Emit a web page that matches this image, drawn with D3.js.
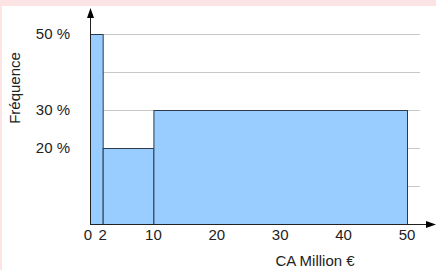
<!DOCTYPE html>
<html>
<head>
<meta charset="utf-8">
<script src="https://cdn.jsdelivr.net/npm/d3@7"></script>
<style>
  html, body { margin: 0; padding: 0; background: #fde4e4; }
  svg { display: block; }
  text { font-family: "Liberation Sans", Arial, sans-serif; fill: #222; }
</style>
</head>
<body>
<svg id="svg-histo" width="436" height="270"></svg>
<script>
// Data
var classStarts = [0, 2, 10];
var classEnds = [2, 10, 50];
var frequencies = [50, 20, 30]; // percent
var xTicks = [0, 2, 10, 20, 30, 40, 50];
var yTicks = [50, 30, 20];
var gridValues = [10, 20, 30, 40, 50];
var xTitle = "CA Million €";
var yTitle = "Fréquence";

function init() {
  var svg = d3.select("#svg-histo");

  // white panel inside the pink frame
  svg.append("rect")
     .attr("x", 2).attr("y", 6)
     .attr("width", 434).attr("height", 264)
     .attr("fill", "#fff");

  var x = d3.scaleLinear().domain([0, 50]).range([90, 407]);
  var y = d3.scaleLinear().domain([0, 50]).range([224, 34]);

  // gridlines
  svg.selectAll(".grid")
     .data(gridValues)
     .enter()
     .append("line")
     .attr("class", "grid")
     .attr("x1", x(0)).attr("x2", 420)
     .attr("y1", function(d) { return y(d) + 0.5; })
     .attr("y2", function(d) { return y(d) + 0.5; })
     .attr("stroke", "#c8c8c8")
     .attr("stroke-width", 1);

  // bars
  svg.selectAll(".bar")
     .data(frequencies)
     .enter()
     .append("rect")
     .attr("class", "bar")
     .attr("x", function(d, i) { return x(classStarts[i]) + 0.5; })
     .attr("y", function(d) { return y(d) + 0.5; })
     .attr("width", function(d, i) { return x(classEnds[i]) - x(classStarts[i]); })
     .attr("height", function(d) { return y(0) - y(d); })
     .attr("fill", "#99ccff")
     .attr("stroke", "#2e3b4e")
     .attr("stroke-width", 1);

  // axes with arrows
  svg.append("line")
     .attr("x1", x(0) + 0.5).attr("x2", x(0) + 0.5)
     .attr("y1", y(0) + 0.5).attr("y2", 16)
     .attr("stroke", "#222");
  svg.append("path")
     .attr("d", "M" + (x(0) + 0.5) + ",8 L" + (x(0) + 4) + ",18 L" + (x(0) - 3) + ",18 Z")
     .attr("fill", "#000");
  svg.append("line")
     .attr("x1", x(0)).attr("x2", 428)
     .attr("y1", y(0) + 0.5).attr("y2", y(0) + 0.5)
     .attr("stroke", "#222");
  svg.append("path")
     .attr("d", "M436," + (y(0) + 0.5) + " L426," + (y(0) - 3) + " L426," + (y(0) + 4) + " Z")
     .attr("fill", "#000");

  // tick labels
  svg.selectAll(".xlabel")
     .data(xTicks)
     .enter()
     .append("text")
     .attr("class", "xlabel")
     .attr("x", function(d) { return d === 0 ? x(d) - 2 : x(d); })
     .attr("y", 240)
     .attr("text-anchor", "middle")
     .style("font-size", "15px")
     .text(function(d) { return d; });

  svg.selectAll(".ylabel")
     .data(yTicks)
     .enter()
     .append("text")
     .attr("class", "ylabel")
     .attr("x", 70)
     .attr("y", function(d) { return y(d) + 5; })
     .attr("text-anchor", "end")
     .style("font-size", "15px")
     .text(function(d) { return d + " %"; });

  // titles
  svg.append("text")
     .attr("x", 315).attr("y", 266)
     .attr("text-anchor", "middle")
     .style("font-size", "15px")
     .text(xTitle);
  svg.append("text")
     .attr("transform", "translate(20,88) rotate(-90)")
     .attr("text-anchor", "middle")
     .style("font-size", "15px")
     .text(yTitle);
}
init();
</script>
</body>
</html>
